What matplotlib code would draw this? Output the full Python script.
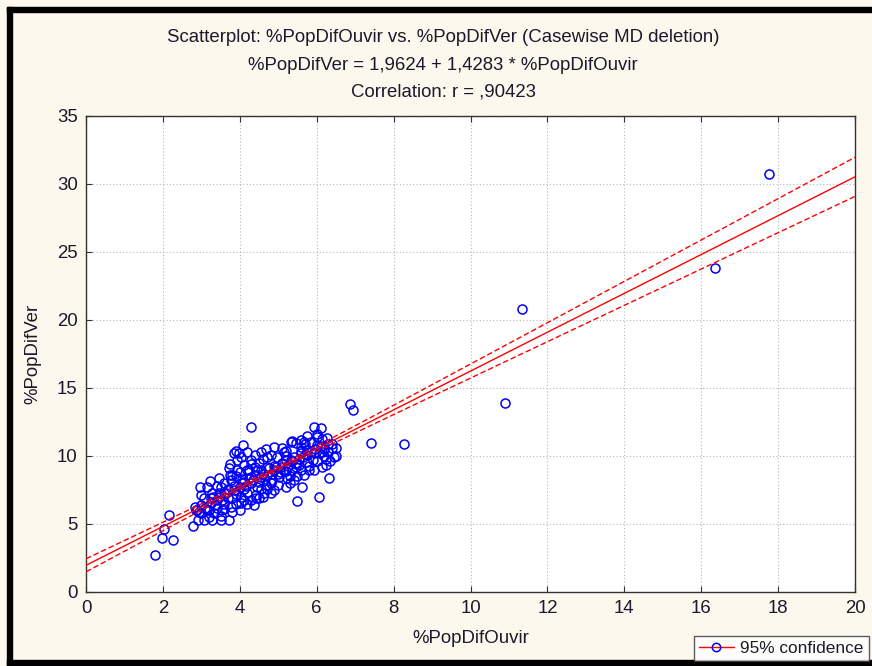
import numpy as np
import matplotlib
matplotlib.use("Agg")
import matplotlib.pyplot as plt
from matplotlib.lines import Line2D
from matplotlib.patches import Rectangle

plt.rcParams['font.family'] = ['Liberation Sans', 'DejaVu Sans']

# %PopDifOuvir (x) and %PopDifVer (y)
pct_ouvir = [
    17.76, 16.35, 11.34, 10.90, 8.27, 7.40, 6.86, 6.94, 6.05, 5.48,
    4.28, 1.80, 2.27, 1.98, 2.03, 2.16, 2.78,
    5.93, 6.11, 5.76, 6.02, 6.15, 6.28, 5.67, 5.45, 5.37, 6.41,
    6.44, 6.24, 6.15, 5.93, 6.32, 5.76, 5.93, 6.15, 5.58, 5.32,
    5.50, 5.76, 5.67, 5.58, 5.15, 4.89, 4.67, 4.54, 4.71, 4.98,
    5.19, 5.06, 4.89, 4.71, 4.54, 5.24, 5.02, 4.84, 4.67, 4.45,
    5.19, 5.41, 5.63, 4.89, 4.63, 4.41, 4.37, 4.19, 4.02, 4.02,
    3.80, 3.76, 3.71, 3.50, 3.28, 3.06, 2.89, 2.84, 3.15, 2.98,
    3.24, 3.32, 3.54, 3.41, 3.58, 3.84, 4.06, 4.28, 4.45, 4.19,
    3.93, 3.76, 3.50, 3.28, 3.06, 2.97, 3.22, 3.45, 3.71, 3.74,
    3.84, 3.89, 3.98, 3.93, 4.02, 4.11, 4.28, 4.09, 5.37, 5.54,
    5.32, 4.50, 4.70, 4.30, 4.80, 5.00, 5.20, 5.40, 5.60, 5.90,
    6.00, 6.20, 6.30, 5.10, 4.40, 4.20, 3.90, 3.60, 3.40, 3.30,
    3.00, 3.70, 4.10, 4.60, 4.90, 5.30, 5.80, 3.60, 3.90, 4.00,
    4.40, 5.70, 6.00, 4.80, 5.20, 4.60, 4.30, 3.50, 3.80, 3.20,
    2.90, 4.00, 6.50, 6.50, 6.35, 4.05, 4.55, 5.05, 5.45, 4.20,
    3.15, 3.45, 2.95, 4.43, 5.58,
    3.10, 3.25, 3.35, 3.45, 3.55, 3.65, 3.70, 3.85, 3.95, 4.00,
    4.10, 4.15, 4.25, 4.35, 4.40, 4.50, 4.55, 4.65, 4.75, 4.85,
    4.95, 5.00, 5.10, 5.15, 5.25, 5.35, 5.45, 5.55, 5.65, 5.75,
    5.85, 5.95, 6.05, 6.10, 6.20, 6.30, 6.40, 5.85, 5.60, 5.20,
    4.60, 4.30, 3.80, 3.40, 3.00, 3.60, 4.10, 4.70, 5.30, 5.80,
    2.85, 3.20, 3.90, 4.50, 4.80, 5.50, 6.00, 6.25, 4.25, 3.75,
]
pct_ver = [
    30.70, 23.80, 20.80, 13.90, 10.90, 10.96, 13.80, 13.40, 7.00, 6.70,
    12.10, 2.72, 3.82, 4.00, 4.61, 5.66, 4.88,
    12.15, 12.03, 11.47, 11.42, 11.22, 11.30, 11.05, 10.98, 11.12, 10.56,
    9.95, 9.34, 9.21, 8.97, 8.36, 10.44, 10.20, 10.32, 10.20, 9.70,
    9.46, 9.58, 8.60, 8.97, 10.32, 10.63, 10.49, 10.32, 9.95, 9.95,
    9.70, 9.21, 8.97, 8.60, 8.48, 8.36, 8.48, 8.23, 7.87, 7.74,
    7.70, 8.23, 7.74, 7.50, 7.25, 7.13, 6.39, 7.25, 7.01, 6.52,
    6.88, 6.27, 5.29, 5.29, 5.29, 5.29, 6.03, 6.27, 6.03, 5.78,
    6.52, 5.78, 6.03, 6.76, 7.25, 7.50, 7.99, 8.48, 8.97, 8.97,
    8.97, 8.23, 7.74, 7.25, 6.88, 7.74, 8.18, 8.36, 9.09, 8.60,
    10.20, 10.39, 10.20, 9.70, 9.95, 9.34, 9.70, 10.80, 8.97, 9.34,
    11.05, 9.50, 9.20, 8.00, 7.30, 7.90, 8.90, 9.90, 10.40, 9.70,
    10.80, 10.00, 10.90, 10.60, 10.10, 10.30, 7.20, 6.50, 6.20, 7.00,
    6.40, 7.60, 7.60, 8.70, 9.30, 8.50, 9.00, 8.00, 8.50, 8.80,
    9.20, 10.90, 11.60, 10.10, 10.00, 7.00, 6.80, 5.60, 5.90, 5.50,
    5.30, 6.00, 10.00, 10.60, 9.60, 8.30, 7.60, 8.80, 9.20, 6.50,
    7.70, 7.30, 5.90, 6.90, 10.66,
    6.20, 6.90, 6.40, 7.00, 6.80, 7.30, 6.90, 7.80, 7.40, 7.70,
    8.10, 7.80, 8.40, 8.20, 8.60, 8.10, 9.00, 8.30, 9.10, 8.70,
    9.20, 8.70, 9.50, 8.90, 9.30, 9.60, 9.40, 9.80, 9.90, 10.10,
    10.30, 10.50, 10.20, 10.70, 10.50, 10.30, 10.90, 11.00, 11.20, 10.40,
    9.80, 9.40, 8.60, 7.80, 7.10, 6.10, 6.80, 7.60, 8.00, 9.30,
    6.00, 6.00, 6.50, 6.90, 8.00, 8.50, 9.60, 9.80, 9.00, 9.40,
]

intercept, slope = 1.9624, 1.4283
x_ticks = list(range(0, 21, 2))
y_ticks = list(range(0, 36, 5))

x = np.array(pct_ouvir)
y = np.array(pct_ver)
n = len(x)
resid = y - (intercept + slope * x)
s = np.sqrt(np.sum(resid ** 2) / (n - 2))
sxx = np.sum((x - x.mean()) ** 2)
xx = np.linspace(0, 20, 200)
fit = intercept + slope * xx
half = 1.97 * s * np.sqrt(1 / n + (xx - x.mean()) ** 2 / sxx)

bg = '#fdf8ee'
fig = plt.figure(figsize=(8.72, 6.66), dpi=100, facecolor=bg)
ax = fig.add_axes([86 / 872, 74 / 666, 769 / 872, 476 / 666])
ax.set_facecolor('white')

ax.plot(x, y, 'o', mfc='none', mec='#0000ff', ms=6.5, mew=1.1, zorder=3)
ax.plot(xx, fit, color='#ff0000', lw=1.0, zorder=4)
ax.plot(xx, fit + half, color='#ff0000', lw=1.0, ls=(0, (4, 2)), zorder=4)
ax.plot(xx, fit - half, color='#ff0000', lw=1.0, ls=(0, (4, 2)), zorder=4)

ax.set_xlim(0, 20)
ax.set_ylim(0, 35)
ax.set_xticks(x_ticks)
ax.set_yticks(y_ticks)
ax.grid(True, color='#b8b8b8', ls=(0, (1, 2)), lw=0.8)
ax.tick_params(direction='in', length=4, top=True, labelsize=13.4,
               colors='#333333', labelcolor='#1a1a2a', pad=6)
for sp in ax.spines.values():
    sp.set_color('#333333')
    sp.set_linewidth(1.0)

ax.set_xlabel('%PopDifOuvir', fontsize=13.4, color='#1a1a2a', labelpad=9)
ax.set_ylabel('%PopDifVer', fontsize=13.4, color='#1a1a2a', labelpad=11)

title_lines = [
    'Scatterplot: %PopDifOuvir vs. %PopDifVer (Casewise MD deletion)',
    '%PopDifVer = 1,9624 + 1,4283 * %PopDifOuvir',
    'Correlation: r = ,90423',
]
for i, t in enumerate(title_lines):
    fig.text(443 / 872, 1 - (38 + 27 * i) / 666, t, ha='center', va='center',
             fontsize=13.4, color='#1a1a2a')

# thick black frame around the panel
fig.patches.append(Rectangle((7 / 872, 0), 5 / 872, 659 / 666,
                             transform=fig.transFigure, color='black'))
fig.patches.append(Rectangle((7 / 872, 654 / 666), 865 / 872, 5 / 666,
                             transform=fig.transFigure, color='black'))
fig.patches.append(Rectangle((7 / 872, 0), 865 / 872, 6 / 666,
                             transform=fig.transFigure, color='black'))

handle = Line2D([], [], color='#ff0000', lw=1.0, marker='o', mfc='none',
                mec='#0000ff', ms=6, mew=1.1)
leg = fig.legend([handle], ['95% confidence'], loc='lower left',
                 bbox_to_anchor=(694 / 872, 5 / 666), fontsize=12.4,
                 frameon=True, fancybox=False, handlelength=2.0,
                 borderpad=0.3, handletextpad=0.4, borderaxespad=0)
leg.get_frame().set_edgecolor('#333333')
leg.get_frame().set_linewidth(1.0)
leg.get_frame().set_facecolor('white')
for t in leg.get_texts():
    t.set_color('#1a1a2a')

fig.savefig('out.png', dpi=100, facecolor=bg)
